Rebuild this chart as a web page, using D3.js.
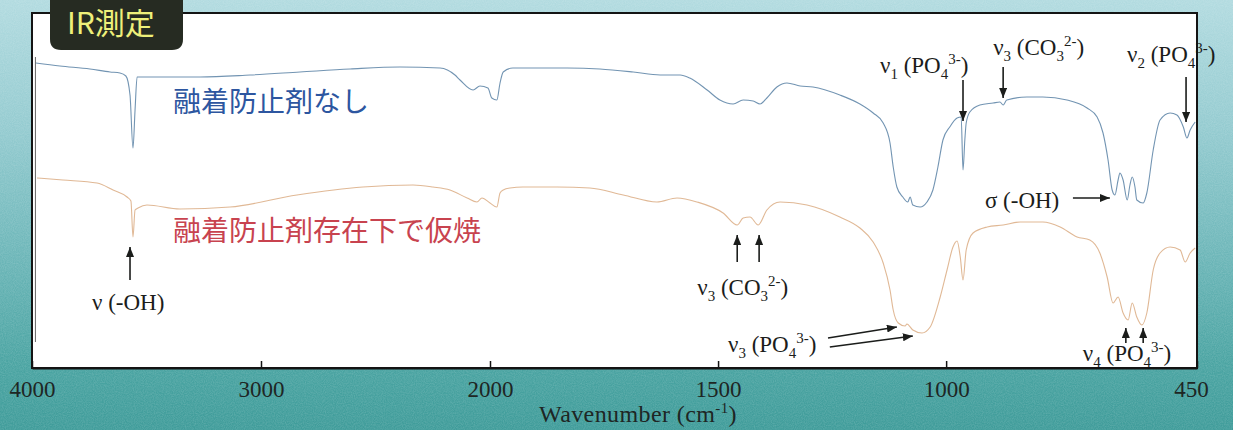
<!DOCTYPE html>
<html>
<head>
<meta charset="utf-8">
<script src="https://cdn.jsdelivr.net/npm/d3@7"></script>
<style>
  html, body { margin: 0; padding: 0; background: #7fc0c4; }
  svg { display: block; }
</style>
</head>
<body>
<svg id="chart" width="1233" height="430"></svg>
<script>
// IR spectra of calcined apatite powders (transmittance, arbitrary offset units)

// Sample without anti-fusion agent
const noAgentWn = [3983,3878,3747,3659,3616,3590,3572,3559,3550,3541,3485,3266,3048,2830,2611,2393,2218,2153,2131,2074,
  2044,2009,1996,1985,1978,1971,1950,1906,1831,1759,1686,1627,1583,1562,1524,1496,1467,1445,1423,1408,
  1393,1371,1349,1320,1292,1233,1189,1160,1138,1123,1116,1108,1095,1084,1079,1073,1057,1042,1029,1018,
  1007,992,976,967,963,959,956,948,926,897,882,875,867,823,788,735,691,669,656,645,
  636,630,623,619,612,603,597,592,586,582,568,560,546,531,509,494,480,472,465,454];
const noAgentT = [61.0,60.4,59.8,59.2,59.0,58.4,54.6,44.0,51.6,58.2,58.2,58.2,58.6,59.2,59.8,60.2,60.0,58.6,57.6,55.6,
  56.4,56.0,54.0,53.6,57.0,59.2,60.0,60.0,60.0,59.8,59.2,58.6,58.6,58.0,55.6,53.6,52.8,53.6,53.4,52.8,
  54.0,56.2,57.0,56.4,56.2,54.6,52.8,51.0,49.0,45.0,40.2,36.2,34.2,33.2,34.2,32.6,32.2,33.2,35.6,40.2,
  45.6,48.2,50.0,50.2,39.6,45.6,49.0,51.2,52.6,53.0,53.2,52.6,53.6,54.2,54.2,53.6,52.0,50.2,47.0,41.6,
  35.6,34.6,37.6,39.0,37.6,33.6,36.6,38.2,36.2,33.6,33.0,35.0,43.6,49.6,51.0,50.6,48.2,46.0,47.6,49.2];

// Sample calcined in the presence of anti-fusion agent
const withAgentWn = [3978,3865,3716,3646,3585,3568,3559,3550,3537,3498,3354,3135,2843,2555,2336,2249,2175,2100,2057,2035,
  2000,1985,1978,1971,1956,1928,1853,1781,1708,1634,1590,1546,1489,1458,1445,1430,1412,1393,1364,1305,
  1233,1189,1160,1138,1123,1116,1105,1090,1086,1073,1053,1035,1013,998,985,976,969,963,956,941,
  910,875,838,788,750,713,685,663,647,634,623,612,601,592,582,571,560,546,531,509,
  487,476,465,454];
const withAgentT = [38.0,37.6,37.0,35.6,34.2,33.4,26.2,31.6,32.0,32.6,31.8,32.2,34.6,36.2,36.6,36.2,35.6,34.0,33.2,34.0,
  33.0,32.2,35.0,35.6,36.0,36.2,36.2,36.0,34.6,33.2,34.0,33.2,31.0,28.6,30.0,30.2,28.6,31.6,33.2,32.6,
  30.2,28.0,25.2,21.0,15.6,11.6,9.0,8.4,8.8,7.6,7.0,8.2,14.2,19.6,24.2,25.4,22.2,17.6,23.6,27.0,
  28.2,28.6,29.2,29.2,28.2,26.2,25.6,23.0,18.2,13.0,14.2,11.0,9.6,13.0,10.2,8.6,11.0,19.6,23.0,24.2,
  23.6,21.2,23.0,24.0];

const seriesNames = ["融着防止剤なし", "融着防止剤存在下で仮焼"];
const tickValues = [4000, 3000, 2000, 1500, 1000, 450];
const titleText = "IR測定";

// Band assignments: text parts [text, kind], arrows [wnFrom, tFrom, wnTo, tTo], text offset from first arrow tail (px)
const annotations = [
  { parts: [["ν"],["1","sub"],[" (PO"],["4","sub"],["3-","sup"],[")"]], arrows: [[963,57.6,963,49.4]], dx: -83, dy: -7 },
  { parts: [["ν"],["3","sub"],[" (CO"],["3","sub"],["2-","sup"],[")"]], arrows: [[875,60.2,875,54.0]], dx: -10, dy: -12 },
  { parts: [["ν"],["2","sub"],[" (PO"],["4","sub"],["3-","sup"],[")"]], arrows: [[474,58.2,474,49.2]], dx: -59, dy: -15 },
  { parts: [["σ (-OH)"]], arrows: [[722,34.0,641,34.0]], dx: -88, dy: 10 },
  { parts: [["ν (-OH)"]], arrows: [[3572,17.6,3572,24.2]], dx: -38, dy: 30 },
  { parts: [["ν"],["3","sub"],[" (CO"],["3","sub"],["2-","sup"],[")"]], arrows: [[1458,21.2,1458,26.6],[1410,21.2,1410,26.6]], dx: -40, dy: 33 },
  { parts: [["ν"],["3","sub"],[" (PO"],["4","sub"],["3-","sup"],[")"]], arrows: [[1259,6.0,1108,8.2],[1255,4.2,1073,6.4]], dx: -100, dy: 14 },
  { parts: [["ν"],["4","sub"],[" (PO"],["4","sub"],["3-","sup"],[")"]], arrows: [[606,5.0,606,8.0],[568,5.0,568,8.0]], dx: -43, dy: 18 }
];

const W = 1233, H = 430;
const plot = { left: 32, right: 1197, top: 13, bottom: 368 };
const serif = "'Liberation Serif', 'Times New Roman', 'DejaVu Serif', serif";
const cjk = "'Noto Sans CJK JP', 'Noto Sans', sans-serif";

const svg = d3.select("#chart");
const defs = svg.append("defs");

// Teal page background
const bg = defs.append("linearGradient").attr("id", "bgGrad")
  .attr("x1", 0).attr("y1", 0).attr("x2", 0).attr("y2", 1);
[[0, "#b2dbe0"], [0.3, "#94cbd0"], [0.6, "#6cb6b8"], [0.85, "#4aa4a2"], [1, "#3f9c9a"]]
  .forEach(([o, c]) => bg.append("stop").attr("offset", o).attr("stop-color", c));

const grain = defs.append("filter").attr("id", "grain").attr("x", 0).attr("y", 0).attr("width", 1).attr("height", 1);
grain.append("feTurbulence").attr("type", "fractalNoise").attr("baseFrequency", 0.9).attr("numOctaves", 2).attr("seed", 3).attr("result", "n");
grain.append("feColorMatrix").attr("in", "n").attr("type", "matrix")
  .attr("values", "0 0 0 0 1  0 0 0 0 1  0 0 0 0 1  0 0 0 0.45 -0.12");
grain.append("feComposite").attr("in2", "SourceGraphic").attr("operator", "in");

svg.append("rect").attr("width", W).attr("height", H).attr("fill", "url(#bgGrad)");
svg.append("rect").attr("width", W).attr("height", H).attr("fill", "#000").attr("filter", "url(#grain)").attr("opacity", 0.5);

// Arrowhead
defs.append("marker").attr("id", "head")
  .attr("viewBox", "0 0 10 8").attr("refX", 10).attr("refY", 4)
  .attr("markerUnits", "userSpaceOnUse").attr("markerWidth", 10).attr("markerHeight", 8)
  .attr("orient", "auto")
  .append("path").attr("d", "M0,0 L10,4 L0,8 Z").attr("fill", "#1b1d1b");

// Scales: IR convention with expanded scale below 2000 cm-1
const x = d3.scaleLinear().domain([4000, 2000, 450]).range([plot.left, 490, plot.right]);
const y = d3.scaleLinear().domain([0, 71]).range([plot.bottom, plot.top]);

// Plot area
svg.append("rect")
  .attr("x", plot.left).attr("y", plot.top)
  .attr("width", plot.right - plot.left).attr("height", plot.bottom - plot.top)
  .attr("fill", "#ffffff");

// Spectrum block left edge
svg.append("line")
  .attr("x1", x(3985)).attr("x2", x(3985)).attr("y1", y(62.2)).attr("y2", y(5.2))
  .attr("stroke", "#666").attr("stroke-width", 1);

const line = d3.line().x(d => x(d[0])).y(d => y(d[1])).curve(d3.curveMonotoneX);

svg.append("path").datum(d3.zip(noAgentWn, noAgentT))
  .attr("d", line).attr("fill", "none")
  .attr("stroke", "#6388aa").attr("stroke-width", 1.1).attr("opacity", 0.9);

svg.append("path").datum(d3.zip(withAgentWn, withAgentT))
  .attr("d", line).attr("fill", "none")
  .attr("stroke", "#ddb089").attr("stroke-width", 1.1).attr("opacity", 0.9);

// Series labels
svg.append("text").attr("x", 173).attr("y", 100).attr("dominant-baseline", "central")
  .attr("font-family", cjk).attr("font-size", 28).attr("fill", "#2d56a0")
  .text(seriesNames[0]);
svg.append("text").attr("x", 173).attr("y", 229).attr("dominant-baseline", "central")
  .attr("font-family", cjk).attr("font-size", 28).attr("fill", "#c8434f")
  .text(seriesNames[1]);

// Rich text helper for sub/superscripts
function rich(sel, parts, small) {
  let off = 0;
  parts.forEach(([t, kind]) => {
    const target = kind === "sub" ? 6 : kind === "sup" ? -9 : 0;
    const ts = sel.append("tspan").attr("dy", target - off).text(t);
    if (kind) ts.attr("font-size", small);
    off = target;
  });
}

// Annotations
const ann = svg.append("g");
annotations.forEach(a => {
  a.arrows.forEach(([w0, t0, w1, t1]) => {
    ann.append("line")
      .attr("x1", x(w0)).attr("y1", y(t0)).attr("x2", x(w1)).attr("y2", y(t1))
      .attr("stroke", "#1b1d1b").attr("stroke-width", 1.6)
      .attr("marker-end", "url(#head)");
  });
  const [w0, t0] = a.arrows[0];
  const t = ann.append("text")
    .attr("x", x(w0) + a.dx).attr("y", y(t0) + a.dy)
    .attr("font-family", serif).attr("font-size", 23).attr("fill", "#1b1d1b");
  rich(t, a.parts, 15);
});

// Frame
svg.append("rect")
  .attr("x", plot.left).attr("y", plot.top)
  .attr("width", plot.right - plot.left).attr("height", plot.bottom - plot.top)
  .attr("fill", "none").attr("stroke", "#141414").attr("stroke-width", 2);

// Bottom axis with inward ticks
const axis = svg.append("g").attr("transform", `translate(0,${plot.bottom})`)
  .call(d3.axisBottom(x).tickValues(tickValues).tickFormat(d3.format("d"))
    .tickSizeInner(-7).tickSizeOuter(0).tickPadding(13));
axis.attr("font-family", serif).attr("font-size", 23);
axis.select(".domain").attr("stroke", "#141414").attr("stroke-width", 2);
axis.selectAll(".tick line").attr("stroke", "#141414").attr("stroke-width", 1.5);
axis.selectAll(".tick text")
  .attr("fill", "#1e2624")
  .attr("dx", d => d === 450 ? -6 : 0);

const xt = svg.append("text").attr("x", 638).attr("y", 422).attr("text-anchor", "middle")
  .attr("font-family", serif).attr("font-size", 24).attr("letter-spacing", 0.4).attr("fill", "#1e2624");
rich(xt, [["Wavenumber (cm"], ["-1", "sup"], [")"]], 15);

// Title tab (square top, rounded bottom corners)
const r = 11, tx0 = 50, tx1 = 183, ty1 = 50;
svg.append("path")
  .attr("d", `M${tx0},0 L${tx1},0 L${tx1},${ty1 - r} Q${tx1},${ty1} ${tx1 - r},${ty1} L${tx0 + r},${ty1} Q${tx0},${ty1} ${tx0},${ty1 - r} Z`)
  .attr("fill", "#262b22");
svg.append("text").attr("x", 67).attr("y", 34)
  .attr("font-family", cjk).attr("font-size", 30).attr("fill", "#eef07a")
  .text(titleText);
</script>
</body>
</html>
